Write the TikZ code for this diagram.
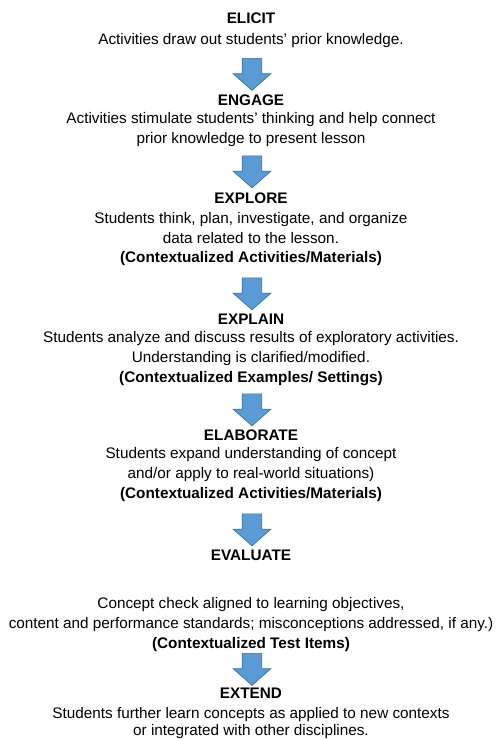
\documentclass[tikz,border=0pt]{standalone}
\usepackage{fontspec}
\setmainfont{Liberation Sans}
\usetikzlibrary{shapes.arrows}

\definecolor{arrowfill}{HTML}{5B9BD5}
\definecolor{arrowline}{HTML}{41719C}

\tikzset{
    stage/.style={font=\fontsize{15.3}{20}\selectfont\bfseries, inner sep=0pt},
    body/.style={font=\fontsize{15.3}{20}\selectfont, align=center, inner sep=0pt},
    note/.style={font=\fontsize{15.3}{20}\selectfont\bfseries, inner sep=0pt},
    down/.style={single arrow, rotate=-90, draw=arrowline, line width=0.7pt,
        fill=arrowfill, minimum height=32pt, minimum width=37pt,
        inner xsep=0pt, inner ysep=9.5pt, single arrow head extend=9pt,
        single arrow tip angle=97},
}

\begin{document}
\begin{tikzpicture}[x=1pt,y=-1pt]
    \useasboundingbox (0,0) rectangle (497,740);
    % define variables.
    \def\mx{251}
    \def\ax{252}
    % elicit
    \node[stage] (h1) at (\mx,18) {ELICIT};
    \node[body] (b1) at (\mx,41) {Activities draw out students’ prior knowledge.};
    % engage
    \node[stage] (h2) at (\mx,100) {ENGAGE};
    \node[body] (b2) at (\mx,130) {Activities stimulate students’ thinking and help connect\\
        prior knowledge to present lesson};
    % explore
    \node[stage] (h3) at (\mx,198) {EXPLORE};
    \node[body] (b3) at (\mx,228) {Students think, plan, investigate, and organize\\
        data related to the lesson.};
    \node[note] (n3) at (\mx,259) {(Contextualized Activities/Materials)};
    % explain
    \node[stage] (h4) at (\mx,319) {EXPLAIN};
    \node[body] (b4) at (\mx,349) {Students analyze and discuss results of exploratory activities.\\
        Understanding is clarified/modified.};
    \node[note] (n4) at (\mx,379) {(Contextualized Examples/ Settings)};
    % elaborate
    \node[stage] (h5) at (\mx,435) {ELABORATE};
    \node[body] (b5) at (\mx,465) {Students expand understanding of concept\\
        and/or apply to real-world situations)};
    \node[note] (n5) at (\mx,495) {(Contextualized Activities/Materials)};
    % evaluate
    \node[stage] (h6) at (\mx,555) {EVALUATE};
    \node[body] (b6) at (\mx,615) {Concept check aligned to learning objectives,\\
        content and performance standards; misconceptions addressed, if any.)};
    \node[note] (n6) at (\mx,645) {(Contextualized Test Items)};
    % extend
    \node[stage] (h7) at (\mx,693) {EXTEND};
    \node[body, font=\fontsize{15.3}{16.5}\selectfont] (b7) at (\mx,723) {Students further learn concepts as applied to new contexts\\
        or integrated with other disciplines.};
    % draw the arrows
    \node[down] (a1) at (\ax,70) {};
    \node[down] (a2) at (\ax,167.5) {};
    \node[down] (a3) at (\ax,289.5) {};
    \node[down] (a4) at (\ax,405.5) {};
    \node[down] (a5) at (\ax,525.5) {};
    \node[down] (a6) at (\ax,665) {};
\end{tikzpicture}
\end{document}
